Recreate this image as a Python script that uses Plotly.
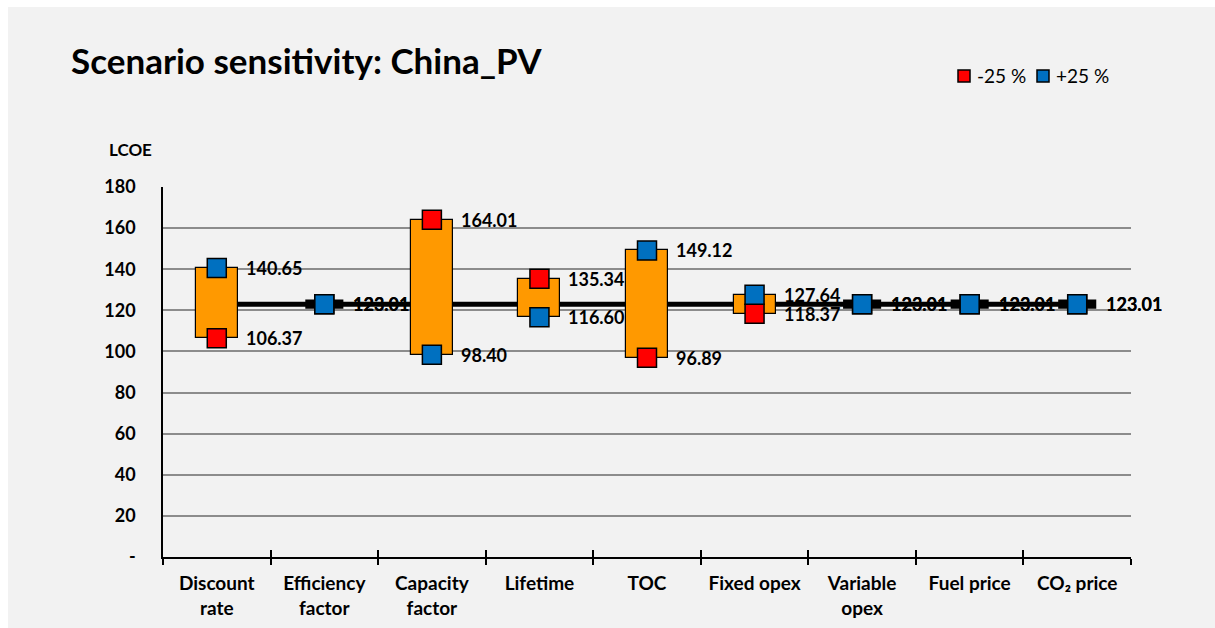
import plotly.graph_objects as go

# Sensitivity of LCOE for China_PV: -25 % / +25 % change of each input
categories = ["Discount<br>rate", "Efficiency<br>factor", "Capacity<br>factor", "Lifetime",
              "TOC", "Fixed opex", "Variable<br>opex", "Fuel price", "CO₂ price"]
base_value = 123.01
minus25 = [106.37, 123.01, 164.01, 135.34, 96.89, 118.37, 123.01, 123.01, 123.01]
plus25 = [140.65, 123.01, 98.40, 116.60, 149.12, 127.64, 123.01, 123.01, 123.01]
series_names = ["-25 %", "+25 %"]
y_ticks = [0, 20, 40, 60, 80, 100, 120, 140, 160, 180]
y_tick_text = ["-", "20", "40", "60", "80", "100", "120", "140", "160", "180"]

FONT = "Lato"
ORANGE = "#FF9900"
RED = "#FF0000"
BLUE = "#0070C0"

# plot-area geometry in pixels
W, H = 1215, 628
L, R, T, B = 163, 84, 187, 71
pw, ph = W - L - R, H - T - B


def px_x(px):
    return (px - L) / pw


def px_y(py):
    return (H - B - py) / ph


low = [min(a, b) for a, b in zip(minus25, plus25)]
span = [abs(a - b) if abs(a - b) > 1e-9 else None for a, b in zip(minus25, plus25)]

fig = go.Figure()

# floating range bars
fig.add_trace(go.Bar(
    x=categories, y=span, base=low, width=0.39,
    marker=dict(color=ORANGE, line=dict(color="black", width=1.2)),
    showlegend=False, hoverinfo="skip",
))

# -25 % and +25 % results
fig.add_trace(go.Scatter(
    x=categories, y=minus25, mode="markers", name=series_names[0], showlegend=False,
    marker=dict(symbol="square", size=19, color=RED, line=dict(color="black", width=1.5)),
))
fig.add_trace(go.Scatter(
    x=categories, y=plus25, mode="markers", name=series_names[1], showlegend=False,
    marker=dict(symbol="square", size=19, color=BLUE, line=dict(color="black", width=1.5)),
))

# helper trace for the boundary tick marks on the overlaid axis
fig.add_trace(go.Scatter(x=categories, y=[None] * len(categories), xaxis="x2",
                         showlegend=False, hoverinfo="skip", mode="markers"))

shapes = []
# grey chart area
shapes.append(dict(type="rect", xref="paper", yref="paper", layer="below",
                   x0=px_x(8), x1=px_x(W) + 0.01, y0=px_y(H) - 0.01, y1=px_y(7),
                   fillcolor="#F2F2F2", line=dict(width=0)))
# base case line with dash markers
shapes.append(dict(type="line", xref="x", yref="y", layer="between",
                   x0=0, x1=len(categories) - 1, y0=base_value, y1=base_value,
                   line=dict(color="black", width=5)))
for i in range(len(categories)):
    shapes.append(dict(type="rect", xref="x", yref="y", layer="between",
                       x0=i - 0.177, x1=i + 0.177,
                       y0=base_value - 2.2, y1=base_value + 2.2,
                       fillcolor="black", line=dict(width=0)))

annotations = []
for i, cat in enumerate(categories):
    for v in (minus25[i], plus25[i]):
        annotations.append(dict(x=i, y=v, xref="x", yref="y", text=f"{v:.2f}",
                                showarrow=False, xanchor="left", yanchor="middle",
                                xshift=27, font=dict(family=FONT, size=18, color="black", weight="bold")))
annotations.append(dict(x=px_x(107), y=px_y(150), xref="paper", yref="paper", text="LCOE",
                        showarrow=False, xanchor="left", yanchor="middle",
                        font=dict(family=FONT, size=17, color="black", weight="bold")))

# legend: small squares with series names
for name, color, sx in zip(series_names, [RED, BLUE], [964, 1043]):
    shapes.append(dict(type="rect", xref="paper", yref="paper", layer="above",
                       x0=px_x(sx - 6), x1=px_x(sx + 6), y0=px_y(82), y1=px_y(70),
                       fillcolor=color, line=dict(color="black", width=1.5)))
    annotations.append(dict(x=px_x(sx + 11), y=px_y(76), xref="paper", yref="paper", text=name,
                            showarrow=False, xanchor="left", yanchor="middle",
                            font=dict(family=FONT, size=19, color="black")))

fig.update_layout(
    width=W, height=H,
    margin=dict(l=L, r=R, t=T, b=B, autoexpand=False),
    paper_bgcolor="white",
    plot_bgcolor="rgba(0,0,0,0)",
    font=dict(family=FONT, color="black"),
    title=dict(text="Scenario sensitivity: China_PV", x=71 / W, xanchor="left", xref="container",
               y=1 - 62 / H, yanchor="middle", yref="container",
               font=dict(family=FONT, size=35, color="black", weight="bold")),
    showlegend=False,
    bargap=0,
    shapes=shapes,
    annotations=annotations,
    xaxis=dict(type="category", categoryorder="array", categoryarray=categories,
               range=[-0.5, len(categories) - 0.5], showgrid=False, zeroline=False,
               automargin=False,
               showline=True, linecolor="black", linewidth=2,
               ticks="outside", tickson="boundaries", ticklen=6, tickwidth=1.5, tickcolor="black",
               ticklabelstandoff=8,
               tickfont=dict(family=FONT, size=19, color="black", weight="bold")),
    xaxis2=dict(type="category", categoryorder="array", categoryarray=categories, overlaying="x",
                anchor="y", side="bottom", range=[-0.5, len(categories) - 0.5],
                automargin=False,
                showgrid=False, zeroline=False, showline=False, showticklabels=False,
                ticks="inside", tickson="boundaries", ticklen=7, tickwidth=1.5, tickcolor="black"),
    yaxis=dict(range=[0, 180], tickvals=y_ticks, ticktext=y_tick_text,
               automargin=False,
               showgrid=True, gridcolor="#8C8C8C", gridwidth=1.5, zeroline=False,
               showline=True, linecolor="black", linewidth=1.5,
               ticks="", ticklabelstandoff=22,
               tickfont=dict(family=FONT, size=18, color="black", weight="bold")),
)

fig.write_html("out.html")
